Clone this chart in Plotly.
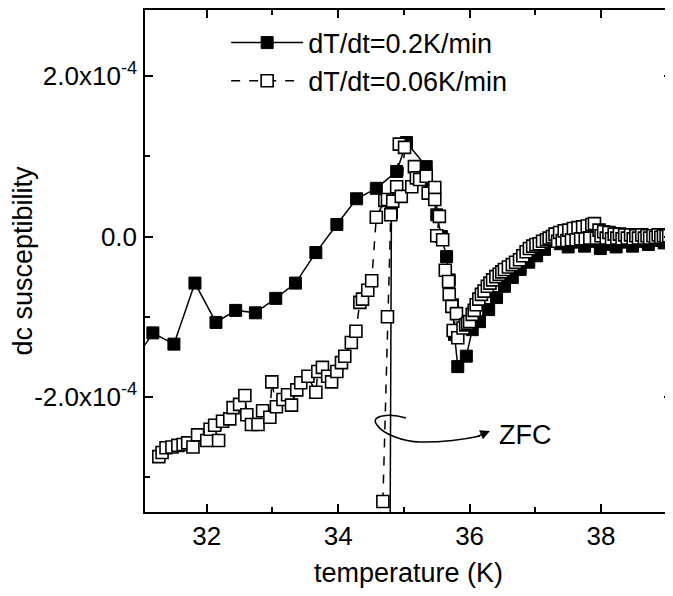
import plotly.graph_objects as go

# ---- data (temperature in K, susceptibility in units of 1e-4) ----
fast_T = [30.83, 31.18, 31.50, 31.82, 32.14, 32.44, 32.74, 33.05, 33.35, 33.66, 33.98,
          34.28, 34.58, 34.89, 35.04, 35.34, 35.42, 35.50, 35.57, 35.65, 35.69, 35.74,
          35.77, 35.82, 35.95, 36.04, 36.15, 36.29, 36.41, 36.53, 36.65, 36.77, 36.90,
          37.02, 37.14, 37.26, 37.38, 37.50, 37.62, 37.75, 37.87, 37.99, 38.11, 38.23,
          38.35, 38.48, 38.60, 38.72, 38.84, 38.96, 39.08]
fast_chi = [-1.63, -1.20, -1.34, -0.58, -1.07, -0.92, -0.95, -0.77, -0.58, -0.20, 0.15,
            0.47, 0.60, 0.81, 1.17, 0.87, 0.59, 0.27, 0.00, -0.25, -0.54, -0.85,
            -1.22, -1.62, -1.49, -1.16, -1.06, -0.91, -0.76, -0.62, -0.51, -0.41, -0.32,
            -0.24, -0.16, -0.06, -0.09, -0.13, -0.07, -0.12, -0.06, -0.15, -0.10, -0.13,
            -0.07, -0.12, -0.06, -0.10, -0.05, -0.08, -0.05]
fast_zfc_T = [34.79, 34.81]
fast_zfc_chi = [-3.70, 0.30]

slow_T = [31.27, 31.32, 31.38, 31.47, 31.56, 31.64, 31.71, 31.79, 31.86, 32.00, 32.05,
          32.12, 32.18, 32.24, 32.35, 32.40, 32.50, 32.58, 32.61, 32.68, 32.78, 32.85,
          32.96, 32.99, 33.06, 33.16, 33.23, 33.29, 33.37, 33.43, 33.54, 33.66, 33.69,
          33.76, 33.84, 33.90, 33.98, 34.05, 34.10, 34.20, 34.27, 34.33, 34.37, 34.45,
          34.51, 34.58, 34.71, 34.75, 34.83, 34.89, 34.93, 35.01, 34.96, 35.12, 35.16,
          35.19, 35.24, 35.34, 35.37, 35.47, 35.47, 35.54, 35.50, 35.59, 35.63, 35.68,
          35.69, 35.73, 35.80, 35.75, 35.82, 35.90, 35.94, 35.97, 36.00, 36.04, 36.07,
          36.10, 36.14, 36.18, 36.22, 36.27, 36.31, 36.35, 36.40, 36.45, 36.49, 36.53,
          36.59, 36.65, 36.70, 36.76, 36.81, 36.86, 36.91, 36.96, 37.01, 37.06, 37.11,
          37.17, 37.21, 37.26, 37.30, 37.34, 37.37, 37.41, 37.44, 37.48, 37.51, 37.55,
          37.58, 37.62, 37.65, 37.69, 37.72, 37.76, 37.79, 37.83, 37.86, 37.90, 37.93,
          37.97, 38.00, 38.04, 38.08, 38.12, 38.16, 38.20, 38.24, 38.28, 38.32, 38.36,
          38.40, 38.45, 38.49, 38.53, 38.57, 38.62, 38.66, 38.70, 38.74, 38.79, 38.83,
          38.87, 38.91, 38.95, 38.99, 39.03]
slow_chi = [-2.74, -2.69, -2.63, -2.62, -2.60, -2.59, -2.57, -2.62, -2.47, -2.54, -2.40,
            -2.35, -2.54, -2.30, -2.27, -2.13, -2.09, -1.98, -2.22, -2.34, -2.34, -2.17,
            -2.25, -1.81, -2.12, -2.03, -1.97, -2.10, -1.91, -1.82, -1.74, -1.94, -1.68,
            -1.63, -1.74, -1.81, -1.68, -1.57, -1.49, -1.32, -1.18, -0.82, -0.78, -0.67,
            -0.55, 0.24, 0.45, 0.46, 0.44, 0.62, 1.15, 1.11, 0.50, 0.62, 0.87,
            0.73, 0.71, 0.75, 0.54, 0.61, 0.46, 0.25, 0.01, -0.04, -0.42, -0.56,
            -0.72, -0.87, -0.96, -1.17, -1.26, -1.14, -1.10, -1.08, -1.06, -0.97, -0.92,
            -0.85, -0.78, -0.72, -0.68, -0.62, -0.58, -0.54, -0.50, -0.47, -0.44, -0.41,
            -0.38, -0.35, -0.32, -0.29, -0.24, -0.19, -0.15, -0.12, -0.10, -0.09, -0.06,
            -0.04, -0.02, 0.00, 0.03, -0.06, 0.05, -0.05, 0.07, -0.05, 0.08, -0.04,
            0.10, -0.04, 0.11, -0.03, 0.12, -0.03, 0.13, -0.02, 0.15, 0.16, -0.02,
            0.08, 0.01, 0.06, -0.02, 0.05, -0.03, 0.03, -0.02, 0.03, -0.03, 0.02,
            -0.02, 0.02, -0.03, 0.01, -0.02, 0.02, -0.02, 0.01, -0.02, 0.01, -0.01,
            0.02, -0.01, 0.01, 0.00, 0.01]
slow_zfc_T = [34.68, 34.75, 34.80]
slow_zfc_chi = [-3.30, -1.00, 0.27]

x_ticks = [32, 34, 36, 38]
y_tickvals = [-2, 0, 2]
y_ticktext = ["-2.0x10<sup>-4</sup>", "0.0", "2.0x10<sup>-4</sup>"]

FONT = "Arial, Liberation Sans, sans-serif"
msize = 12
TICK_SIZE = 26
TITLE_SIZE = 27

fig = go.Figure()

fig.add_trace(go.Scatter(
    x=fast_zfc_T, y=fast_zfc_chi, mode="lines+markers", showlegend=False,
    line=dict(color="black", width=1.5),
    marker=dict(symbol="square", size=msize, color="black", line=dict(color="black", width=1))))
fig.add_trace(go.Scatter(
    x=fast_T, y=fast_chi, mode="lines+markers", name="dT/dt=0.2K/min",
    line=dict(color="black", width=1.5),
    marker=dict(symbol="square", size=msize, color="black", line=dict(color="black", width=1))))
fig.add_trace(go.Scatter(
    x=slow_zfc_T, y=slow_zfc_chi, mode="lines+markers", showlegend=False,
    line=dict(color="black", width=1.5, dash="dash"),
    marker=dict(symbol="square", size=msize, color="white", line=dict(color="black", width=1.6))))
fig.add_trace(go.Scatter(
    x=slow_T, y=slow_chi, mode="lines+markers", name="dT/dt=0.06K/min",
    line=dict(color="black", width=1.5, dash="dash"),
    marker=dict(symbol="square", size=msize, color="white", line=dict(color="black", width=1.6))))

# ZFC loop annotation (paper coordinates)
fig.add_shape(type="path", xref="paper", yref="paper",
              path="M 0.4953,0.1873 C 0.4649,0.1972 0.4250,0.1930 0.4402,0.1733 "
                   "C 0.4516,0.1554 0.4900,0.1400 0.5218,0.1394 "
                   "C 0.5600,0.1390 0.6000,0.1430 0.6357,0.1514",
              line=dict(color="black", width=1.5))
fig.add_annotation(x=0.6546, y=0.1614, xref="paper", yref="paper",
                   ax=-14, ay=6, axref="pixel", ayref="pixel",
                   showarrow=True, arrowhead=2, arrowsize=1.3, arrowwidth=1.5,
                   arrowcolor="black", text="")
fig.add_annotation(x=0.668, y=0.153, xref="paper", yref="paper",
                   xanchor="left", yanchor="middle",
                   text="ZFC", showarrow=False,
                   font=dict(family=FONT, size=TITLE_SIZE, color="black"))

axis_common = dict(showline=True, linecolor="black", linewidth=1.5, mirror="allticks",
                   ticks="inside", ticklen=8, tickwidth=1.5, tickcolor="black",
                   showgrid=False, zeroline=False, automargin=False,
                   tickfont=dict(family=FONT, size=TICK_SIZE, color="black"))

fig.update_xaxes(range=[31.06, 39.08], tickvals=x_ticks,
                 minor=dict(dtick=1, tick0=31, ticks="inside", ticklen=5, tickwidth=1.5, tickcolor="black"),
                 title=dict(text="temperature (K)", font=dict(family=FONT, size=TITLE_SIZE, color="black"), standoff=20),
                 **axis_common)
fig.update_yaxes(range=[-3.43, 2.82], tickvals=y_tickvals, ticktext=y_ticktext,
                 minor=dict(dtick=1, tick0=0, ticks="inside", ticklen=5, tickwidth=1.5, tickcolor="black"),
                 ticklabelstandoff=1,
                 title=dict(text="dc susceptibility", font=dict(family=FONT, size=TITLE_SIZE, color="black"), standoff=0),
                 **axis_common)

# the page body has an 8px default margin; size the figure so the plot area
# lands where the reference has it inside the 673x596 window
fig.update_layout(
    width=665, height=580,
    margin=dict(l=137, r=1, t=2, b=76),
    plot_bgcolor="white", paper_bgcolor="white",
    font=dict(family=FONT, color="black"),
    legend=dict(x=0.154, y=0.983, xanchor="left", yanchor="top",
                bgcolor="rgba(0,0,0,0)", itemwidth=72,
                font=dict(family=FONT, size=TITLE_SIZE, color="black")),
)

fig.write_html("out.html")
